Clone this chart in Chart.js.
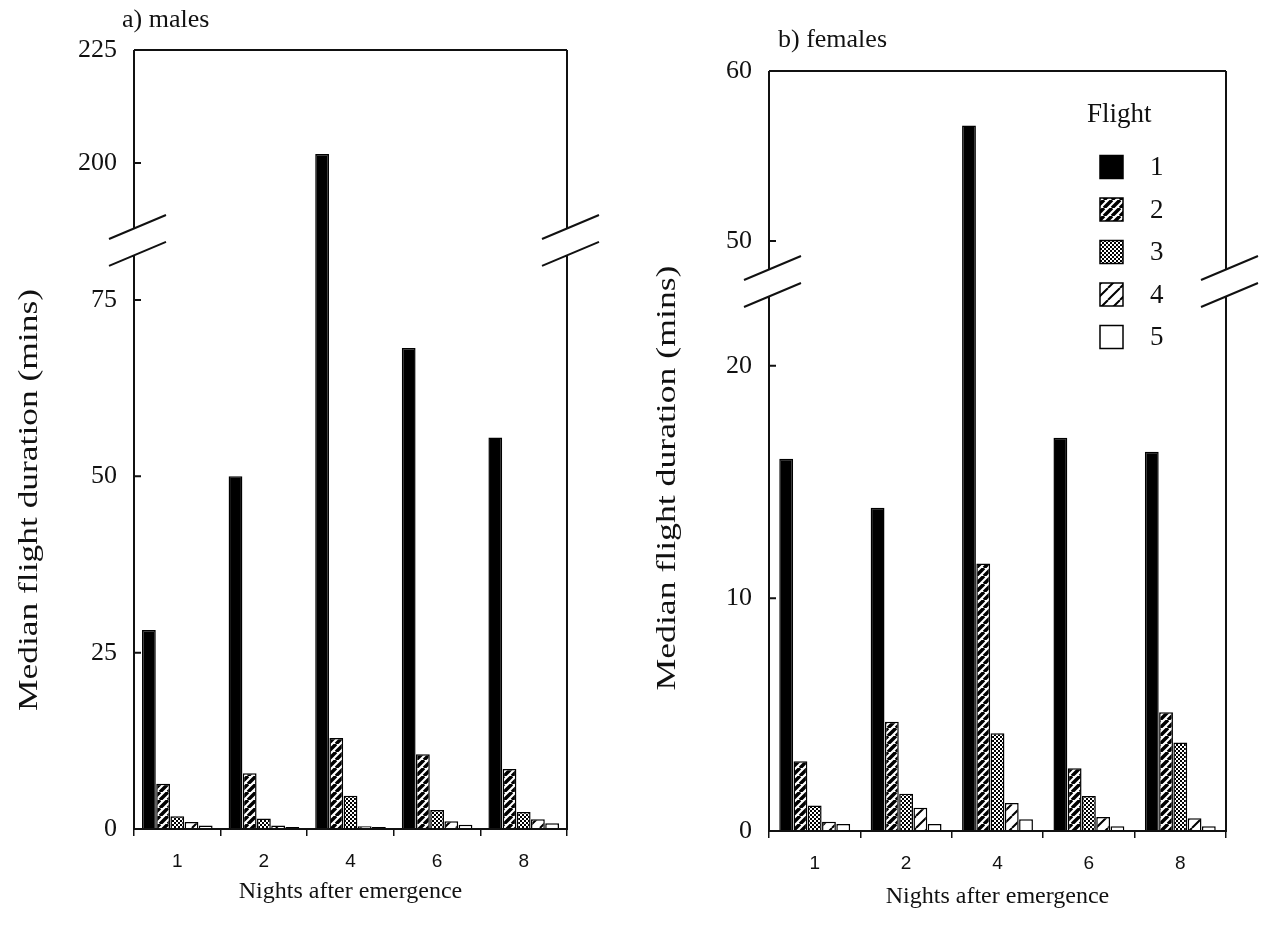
<!DOCTYPE html>
<html>
<head>
<meta charset="utf-8">
<script src="https://cdn.jsdelivr.net/npm/chart.js@4.4.0/dist/chart.umd.min.js"></script>
<style>
body { margin: 0; background: #fff; }
#wrap { position: relative; width: 1281px; height: 946px; }
canvas { position: absolute; top: 0; }
</style>
</head>
<body>
<div id="wrap">
<canvas id="graficaMachos" width="640" height="946" style="left:0"></canvas>
<canvas id="graficaHembras" width="641" height="946" style="left:640px"></canvas>
</div>
<script>
// datos (minutos)
const nights = ['1', '2', '4', '6', '8'];
const flights = ['1', '2', '3', '4', '5'];

const maleFlight1 = [28.2, 50, 202, 68.2, 55.5];
const maleFlight2 = [6.4, 7.9, 12.9, 10.6, 8.5];
const maleFlight3 = [1.8, 1.5, 4.7, 2.7, 2.4];
const maleFlight4 = [1.0, 0.5, 0.4, 1.1, 1.4];
const maleFlight5 = [0.5, 0.3, 0.3, 0.6, 0.8];

const femaleFlight1 = [16.0, 13.9, 56.8, 16.9, 16.3];
const femaleFlight2 = [3.0, 4.7, 11.5, 2.7, 5.1];
const femaleFlight3 = [1.1, 1.6, 4.2, 1.5, 3.8];
const femaleFlight4 = [0.4, 1.0, 1.2, 0.6, 0.55];
const femaleFlight5 = [0.3, 0.3, 0.5, 0.2, 0.2];

const maleTicks = [0, 25, 50, 75, 200, 225];
const femaleTicks = [0, 10, 20, 50, 60];

const SERIF = "'Liberation Serif', 'DejaVu Serif', serif";
const SANS = "'Liberation Sans', Arial, sans-serif";
const INK = '#111';

// eje y con corte: tramo bajo, hueco, tramo alto
class BrokenScale extends Chart.LinearScale {
    getPixelForValue(value) {
        const b = this.options.brk;
        const h = this.bottom - this.top;
        let f;
        if (value <= b.low) f = value / b.low * b.lowFrac;
        else if (value < b.high) f = b.lowFrac + (value - b.low) / (b.high - b.low) * b.gapFrac;
        else f = b.lowFrac + b.gapFrac + (value - b.high) / (this.max - b.high) * (1 - b.lowFrac - b.gapFrac);
        return this.bottom - f * h;
    }
    getValueForPixel(pixel) {
        const b = this.options.brk;
        const f = (this.bottom - pixel) / (this.bottom - this.top);
        if (f <= b.lowFrac) return f / b.lowFrac * b.low;
        if (f < b.lowFrac + b.gapFrac) return b.low + (f - b.lowFrac) / b.gapFrac * (b.high - b.low);
        return b.high + (f - b.lowFrac - b.gapFrac) / (1 - b.lowFrac - b.gapFrac) * (this.max - b.high);
    }
}
BrokenScale.id = 'broken';
BrokenScale.defaults = Chart.LinearScale.defaults;
Chart.register(BrokenScale);

// tramas
function hatch(size, width, bg, fg) {
    const c = document.createElement('canvas');
    c.width = c.height = size;
    const x = c.getContext('2d');
    x.fillStyle = bg;
    x.fillRect(0, 0, size, size);
    x.strokeStyle = fg;
    x.lineWidth = width;
    x.beginPath();
    for (let k = -1; k <= 1; k++) {
        x.moveTo(k * size, size);
        x.lineTo(k * size + size, 0);
    }
    x.stroke();
    return x.createPattern(c, 'repeat');
}
function stipple() {
    const c = document.createElement('canvas');
    c.width = c.height = 4;
    const x = c.getContext('2d');
    x.fillStyle = '#fff';
    x.fillRect(0, 0, 4, 4);
    x.fillStyle = '#000';
    x.fillRect(0, 0, 2, 2);
    x.fillRect(2, 2, 2, 2);
    return x.createPattern(c, 'repeat');
}
const fills = ['#000', hatch(8, 3.5, '#fff', '#000'), stipple(), hatch(12, 2, '#fff', '#000'), '#fff'];

function makeDatasets(series) {
    return series.map((data, i) => ({
        label: flights[i],
        data: data,
        backgroundColor: fills[i],
        borderColor: '#000',
        borderWidth: 1.5
    }));
}

// marco, cortes, titulos y leyenda
const marco = {
    id: 'marco',
    afterDatasetsDraw(chart, args, o) {
        const { ctx, chartArea: ca } = chart;
        const y = chart.scales.y;
        const b = y.options.brk;
        const yLow = y.getPixelForValue(b.low);
        const yHigh = y.getPixelForValue(b.high);
        ctx.save();
        ctx.strokeStyle = INK;
        ctx.lineWidth = 2;
        ctx.beginPath();
        ctx.moveTo(ca.left, ca.top); ctx.lineTo(ca.right, ca.top);
        ctx.moveTo(ca.left - 1, ca.bottom); ctx.lineTo(ca.right + 1, ca.bottom);
        [ca.left, ca.right].forEach(x => {
            ctx.moveTo(x, ca.bottom); ctx.lineTo(x, yLow);
            ctx.moveTo(x, yHigh); ctx.lineTo(x, ca.top);
            ctx.moveTo(x - 25, yLow + 11); ctx.lineTo(x + 32, yLow - 13);
            ctx.moveTo(x - 25, yHigh + 11); ctx.lineTo(x + 32, yHigh - 13);
        });
        y.ticks.forEach(t => {
            if (t.value > 0 && t.value < y.max) {
                const py = y.getPixelForValue(t.value);
                ctx.moveTo(ca.left, py);
                ctx.lineTo(ca.left + 7, py);
            }
        });
        ctx.stroke();

        ctx.fillStyle = INK;
        // titulo del panel
        ctx.font = '26px ' + SERIF;
        ctx.textAlign = 'left';
        ctx.textBaseline = 'middle';
        ctx.fillText(o.panel, o.panelX, o.panelY);

        // titulo eje y
        ctx.save();
        ctx.translate(o.yTitleX, o.yTitleY);
        ctx.rotate(-Math.PI / 2);
        ctx.font = '28px ' + SERIF;
        const w = ctx.measureText(o.yTitle).width;
        ctx.scale(o.yTitleLen / w, 1);
        ctx.textAlign = 'center';
        ctx.fillText(o.yTitle, 0, 0);
        ctx.restore();

        // leyenda
        if (o.legend) {
            const L = o.legend;
            ctx.font = '27px ' + SERIF;
            ctx.textAlign = 'left';
            ctx.fillText(L.title, L.titleX, L.titleY);
            chart.data.datasets.forEach((ds, i) => {
                const cy = L.y0 + i * L.step;
                ctx.fillStyle = ds.backgroundColor;
                ctx.fillRect(L.boxX, cy - L.box / 2, L.box, L.box);
                ctx.lineWidth = 1.5;
                ctx.strokeStyle = '#000';
                ctx.strokeRect(L.boxX, cy - L.box / 2, L.box, L.box);
                ctx.fillStyle = INK;
                ctx.fillText(ds.label, L.textX, cy + 1);
            });
        }
        ctx.restore();
    }
};

function panel(canvasId, series, yMax, yTicks, brk, areaLeft, padRight, catPct, plug) {
    return new Chart(document.getElementById(canvasId), {
        type: 'bar',
        data: { labels: nights, datasets: makeDatasets(series) },
        options: {
            responsive: false,
            animation: false,
            devicePixelRatio: 1,
            layout: { padding: { left: 0, top: plug.top, right: padRight, bottom: 0 } },
            datasets: { bar: { categoryPercentage: catPct, barPercentage: 0.97 } },
            plugins: { legend: { display: false }, tooltip: { enabled: false }, marco: plug },
            scales: {
                x: {
                    offset: true,
                    grid: { offset: true, drawOnChartArea: false, drawTicks: true, tickLength: 7, color: INK, lineWidth: 1.5 },
                    border: { display: false },
                    ticks: { color: INK, font: { family: SANS, size: 19 }, padding: 14 },
                    title: { display: true, text: 'Nights after emergence', color: INK, font: { family: SERIF, size: 24 }, padding: { top: 0, bottom: plug.xTitlePad } },
                    afterFit: s => { s.height = 946 - plug.bottom; }
                },
                y: {
                    type: 'broken',
                    min: 0,
                    max: yMax,
                    brk: brk,
                    grid: { display: false, drawTicks: false },
                    border: { display: false },
                    ticks: { color: INK, font: { family: SERIF, size: 26 }, padding: 17 },
                    afterBuildTicks: s => { s.ticks = yTicks.map(v => ({ value: v })); },
                    afterFit: s => { s.width = areaLeft; }
                }
            }
        },
        plugins: [marco]
    });
}

panel('graficaMachos',
    [maleFlight1, maleFlight2, maleFlight3, maleFlight4, maleFlight5],
    225, maleTicks,
    { low: 81.4, high: 185.6, lowFrac: 0.737, gapFrac: 0.0345 },
    134, 640 - 567, 0.82,
    { top: 50, bottom: 829, xTitlePad: 40,
      panel: 'a) males', panelX: 122, panelY: 20,
      yTitle: 'Median flight duration (mins)', yTitleX: 30, yTitleY: 500, yTitleLen: 422 });

panel('graficaHembras',
    [femaleFlight1, femaleFlight2, femaleFlight3, femaleFlight4, femaleFlight5],
    60, femaleTicks,
    { low: 23, high: 48.35, lowFrac: 0.704, gapFrac: 0.0355 },
    129, 641 - 586, 0.78,
    { top: 71, bottom: 831, xTitlePad: 35,
      panel: 'b) females', panelX: 138, panelY: 40,
      yTitle: 'Median flight duration (mins)', yTitleX: 28, yTitleY: 478, yTitleLen: 425,
      legend: { title: 'Flight', titleX: 447, titleY: 115, boxX: 460, box: 23, textX: 510, y0: 167, step: 42.5 } });
</script>
</body>
</html>
